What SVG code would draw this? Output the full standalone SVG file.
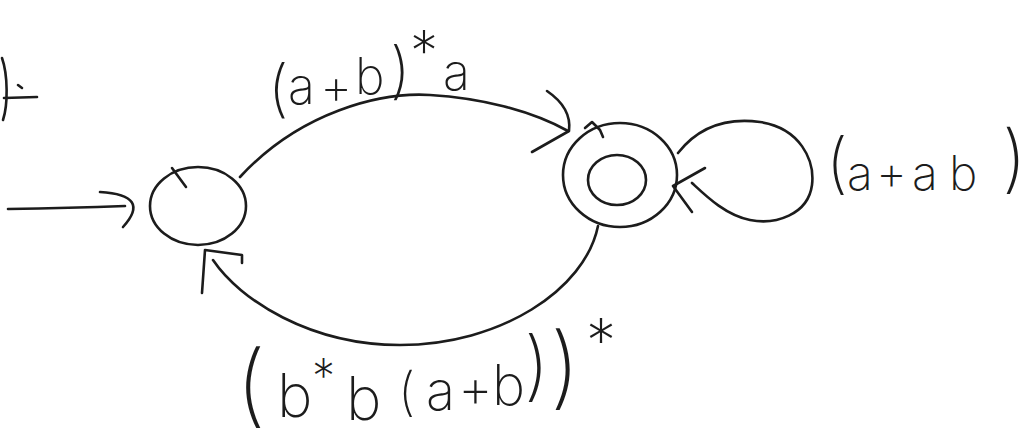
<svg xmlns="http://www.w3.org/2000/svg" width="1034" height="436" viewBox="0 0 1034 436">
<style>
.ln{fill:none;stroke:#1c1c1c;stroke-width:2.6;stroke-linecap:round;stroke-linejoin:round}
.t{font-family:"Inter","Open Sans","Liberation Sans",sans-serif;font-weight:200;fill:#1c1c1c}
</style>
<rect width="1034" height="436" fill="#ffffff"/>
<!-- cropped fragment at top-left edge -->
<g id="fragment">
<path class="ln" d="M2,58 C8,75 8,105 3,120"/>
<path class="ln" d="M4,98 L37,97"/>
<path class="ln" d="M18,85 L22,88" stroke-width="1.5"/>
</g>
<g id="q0">
<ellipse class="ln" cx="198" cy="206" rx="48" ry="39"/>
<path class="ln" d="M172,168 L186,187"/>
</g>
<g id="q1">
<ellipse class="ln" cx="620" cy="175" rx="57" ry="52"/>
<path class="ln" d="M585,128 L592,122 L600,130 L603,137"/>
<ellipse class="ln" cx="617" cy="180" rx="29" ry="25"/>
</g>
<g id="connectors">
<path class="ln" d="M8,209 Q70,208 125,206"/>
<path class="ln" d="M100,192 Q152,195 123,227"/>
<path class="ln" d="M240,177 C300,112 380,92 430,95 C480,98 530,110 568,131"/>
<path class="ln" d="M547,91 Q572,108 569,131 L532,152"/>
<path class="ln" d="M678,153 C700,125 730,118 760,122 C800,128 815,160 812,185 C808,215 775,225 750,220 C725,215 705,195 692,183"/>
<path class="ln" d="M705,168 L673,186 L692,212"/>
<path class="ln" d="M598,226 C585,290 500,345 400,345 C310,345 240,300 213,260"/>
<path class="ln" d="M242,263 L242,255 L205,250 L202,293"/>
</g>
<g id="labels">
<text class="t" font-size="50"><tspan x="268" y="110" font-size="62">(</tspan><tspan x="288" y="104">a</tspan><tspan x="320" y="104">+</tspan><tspan x="355" y="94">b</tspan><tspan x="390" y="92" font-size="62">)</tspan><tspan x="410" y="71" font-size="56">*</tspan><tspan x="443" y="90">a</tspan></text>
<text class="t" font-size="48"><tspan x="826" y="186" font-size="66">(</tspan><tspan x="847" y="190">a</tspan><tspan x="876" y="190">+</tspan><tspan x="912" y="190">a</tspan><tspan x="949" y="190">b</tspan><tspan x="1002" y="184" font-size="74">)</tspan></text>
<text class="t" font-size="60"><tspan x="236" y="416" font-size="90">(</tspan><tspan x="277" y="417">b</tspan><tspan x="312" y="392" font-size="46">*</tspan><tspan x="346" y="420">b</tspan><tspan x="398" y="410" font-size="52">(</tspan><tspan x="426" y="410" font-size="54">a</tspan><tspan x="458" y="407" font-size="54">+</tspan><tspan x="492" y="405" font-size="56">b</tspan><tspan x="524" y="392" font-size="76">)</tspan><tspan x="550" y="398" font-size="90">)</tspan><tspan x="586" y="362" font-size="60">*</tspan></text>
</g>
</svg>
